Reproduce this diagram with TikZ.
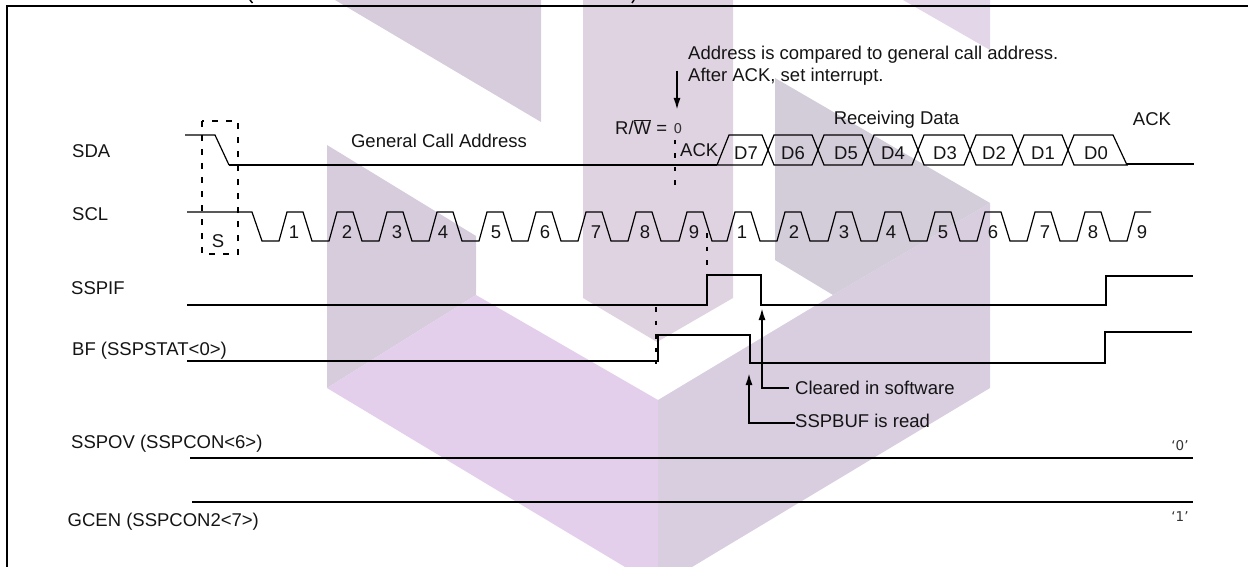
\documentclass[tikz,border=0pt]{standalone}
\usepackage{fontspec}
\setmainfont{Liberation Sans}
\newfontfamily\numf{DejaVu Sans}
\usetikzlibrary{arrows.meta}
\definecolor{wmgray}{HTML}{D6CCDC}
\definecolor{wmcol}{HTML}{DFD3E2}
\definecolor{wmdark}{HTML}{D3CCD9}
\definecolor{wmlav}{HTML}{D9CEE0}
\definecolor{wmpink}{HTML}{E3CEEB}
\definecolor{wmtop}{HTML}{E2D6E8}
\tikzset{
  x=1pt,y=-1pt,
  wave/.style={line width=1.2pt,line join=miter,black},
  sig/.style={line width=2pt,black},
  guide/.style={line width=2pt,dash pattern=on 4.5pt off 9pt,black},
  lab/.style={inner sep=0pt,text height=13.2pt,text depth=0pt,font=\fontsize{18.5}{20}\selectfont,text=black!92},
  labl/.style={lab,anchor=west},
  numl/.style={inner sep=0pt,font=\numf\fontsize{13.5}{15}\selectfont,text=black!80},
  tip/.style={-{Latex[length=12pt,width=7pt]},line width=1.8pt},
}
\begin{document}
\begin{tikzpicture}
\useasboundingbox (0,0) rectangle (1248,567);
% watermark
\fill[wmgray] (335,0) -- (541,0) -- (541,122) -- cycle;
\fill[wmgray] (327,145) -- (476,236) -- (476,295) -- (327,388) -- cycle;
\fill[wmpink] (327,388) -- (476,295) -- (658,400) -- (658,567) -- (625,567) -- cycle;
\fill[wmcol] (583,0) -- (733,0) -- (733,298) -- (657,342) -- (583,298) -- cycle;
\fill[wmlav] (658,400) -- (833,295) -- (990,203) -- (990,388) -- (692,567) -- (658,567) -- cycle;
\fill[wmdark] (775,78) -- (990,203) -- (833,295) -- (775,260) -- cycle;
\fill[wmtop] (903,0) -- (990,0) -- (990,50) -- cycle;
% frame
\coordinate (ftl) at (7,6);
\coordinate (fbl) at (7,567);
\coordinate (ftr) at (1248,6);
\draw[line width=2pt] (fbl) -- (ftl) -- (ftr);
% clipped remains of the cut-off title
\draw[line width=1.5pt] (250,0) -- (252.5,3);
\draw[line width=1.5pt] (634,0) -- (632,3);
% labels
\node[labl] (lsda) at (72,151) {SDA};
\node[labl] (lscl) at (72,214) {SCL};
\node[labl] (lif) at (71,288) {SSPIF};
\node[labl] (lbf) at (72,349) {BF (SSPSTAT<0>)};
\node[labl] (lov) at (71,442) {SSPOV (SSPCON<6>)};
\node[labl] (lgc) at (67.5,520) {GCEN (SSPCON2<7>)};
\node[lab] (lgca) at (439,141) {General Call Address};
\node[lab] (lrd) at (896.5,118) {Receiving Data};
\node[lab] (lack) at (1152,119) {ACK};
\node[labl] (lack2) at (680,150) {ACK};
\node[labl] (ladd) at (688,53) {Address is compared to general call address.};
\node[labl] (laft) at (688,75) {After ACK, set interrupt.};
\node[lab] (ls) at (218,241) {S};
\node[labl] (lrw) at (615,128) {R/$\overline{\mbox{W}}$ = };
\node[numl] (lz) at (678,129) {0};
\node[numl] (lq0) at (1180,446) {‘0’};
\node[numl] (lq1) at (1180,517) {‘1’};
% S box
\draw[guide,dash pattern=on 6pt off 8pt] (202,121) rectangle (238,254);
% SDA
\coordinate (sda0) at (185,135);
\coordinate (sda1) at (1194,164.5);
\draw[wave] (sda0) -- (215,135) -- (229,165);
\draw[sig] (229,165) -- (717,165);
\draw[wave] (717,165) -- (729,135) -- (762,135) -- (768,150) -- (762,165) -- (717,165);
\foreach \a/\b in {768/818,818/868,868/918,918/970,970/1018,1018/1068}
  \draw[wave] (\a,150) -- (\a+6,135) -- (\b-6,135) -- (\b,150) -- (\b-6,165) -- (\a+6,165) -- cycle;
\draw[wave] (1068,150) -- (1074,135) -- (1113,135) -- (1127,165) -- (1113,165) -- (1074,165) -- cycle;
\draw[sig] (1127,164.5) -- (sda1);
\foreach \t/\x in {7/746,6/793,5/846,4/893,3/945,2/994,1/1043,0/1096}
  \node[lab] (d\t) at (\x,153) {D\t};
% SCL
\coordinate (scl0) at (187,212);
\draw[wave] (scl0) -- (252,212) -- (262,241)
 \foreach \s in {287,337,387,437,487,536,586,636,687,735,785,836,885,935,985,1035,1085}
  { -- (\s-8,241) -- (\s,212) -- (\s+16,212) -- (\s+25,241) }
 -- (1127,241) -- (1135,212) -- (1151,212);
\foreach \n/\t/\x in {a/1/294,b/2/347,c/3/397,d/4/443,e/5/496,f/6/545,g/7/596,h/8/645,i/9/694,j/1/742,k/2/794,l/3/844,m/4/891,n/5/943,o/6/993,p/7/1045,q/8/1093,r/9/1142}
  \node[lab] (p\n) at (\x,232) {\t};
% SSPIF
\coordinate (if0) at (187,305);
\coordinate (if1) at (1193,276);
\draw[sig,line join=miter] (if0) -- (707,305) -- (707,275) -- (761,275) -- (761,305) -- (1106,305) -- (1106,276) -- (if1);
% BF
\coordinate (bf0) at (187,361);
\coordinate (bf1) at (1192,332);
\draw[sig,line join=miter] (bf0) -- (658,361) -- (658,335) -- (750,335) -- (750,363) -- (1105,363) -- (1105,332) -- (bf1);
% flat lines
\coordinate (ov0) at (190,458); \coordinate (ov1) at (1193,458);
\coordinate (gc0) at (192,502); \coordinate (gc1) at (1193,502);
\draw[sig] (ov0) -- (ov1);
\draw[sig] (gc0) -- (gc1);
% guides
\coordinate (g1a) at (675,140); \coordinate (g1b) at (675,190);
\coordinate (g2a) at (707,233); \coordinate (g2b) at (707,275);
\coordinate (g3a) at (656,307); \coordinate (g3b) at (656,364);
\draw[guide] (g1a) -- (g1b);
\draw[guide] (g2a) -- (g2b);
\draw[guide] (g3a) -- (g3b);
% arrows
\coordinate (a0) at (677,71); \coordinate (a1) at (677,110);
\draw[tip] (a0) -- (a1);
\node[labl] (lclr) at (795,388) {Cleared in software};
\node[labl] (lbuf) at (795,421) {SSPBUF is read};
\coordinate (c1) at (762,308);
\coordinate (b1) at (749,373);
\coordinate (c0) at (789,388);
\draw[tip] (c0) -- (762,388) -- (c1);
\draw[tip] (lbuf.west |- 0,423) -- (749,423) -- (b1);
\end{tikzpicture}
\end{document}
